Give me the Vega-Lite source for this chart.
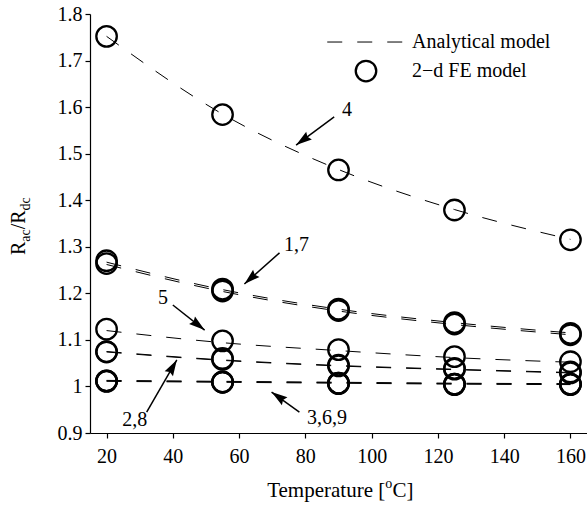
{
  "$schema": "https://vega.github.io/schema/vega-lite/v6.json",
  "width": 497,
  "height": 419,
  "autosize": "none",
  "padding": {"left": 90, "top": 14, "right": 0, "bottom": 75},
  "background": "white",
  "config": {
    "view": {"stroke": null},
    "font": "Liberation Serif, Times New Roman, Times, serif",
    "text": {"font": "Liberation Serif, Times New Roman, Times, serif", "color": "black"}
  },
  "datasets": {
    "fe": [
      {"T": 20, "r": 1.752, "curve": "4"}, {"T": 55, "r": 1.584, "curve": "4"}, {"T": 90, "r": 1.465, "curve": "4"}, {"T": 125, "r": 1.379, "curve": "4"}, {"T": 160, "r": 1.315, "curve": "4"},
      {"T": 20, "r": 1.270, "curve": "1"}, {"T": 55, "r": 1.209, "curve": "1"}, {"T": 90, "r": 1.166, "curve": "1"}, {"T": 125, "r": 1.137, "curve": "1"}, {"T": 160, "r": 1.114, "curve": "1"},
      {"T": 20, "r": 1.264, "curve": "7"}, {"T": 55, "r": 1.205, "curve": "7"}, {"T": 90, "r": 1.163, "curve": "7"}, {"T": 125, "r": 1.134, "curve": "7"}, {"T": 160, "r": 1.111, "curve": "7"},
      {"T": 20, "r": 1.123, "curve": "5"}, {"T": 55, "r": 1.098, "curve": "5"}, {"T": 90, "r": 1.079, "curve": "5"}, {"T": 125, "r": 1.064, "curve": "5"}, {"T": 160, "r": 1.053, "curve": "5"},
      {"T": 20, "r": 1.075, "curve": "2"}, {"T": 55, "r": 1.060, "curve": "2"}, {"T": 90, "r": 1.046, "curve": "2"}, {"T": 125, "r": 1.039, "curve": "2"}, {"T": 160, "r": 1.031, "curve": "2"},
      {"T": 20, "r": 1.074, "curve": "8"}, {"T": 55, "r": 1.058, "curve": "8"}, {"T": 90, "r": 1.044, "curve": "8"}, {"T": 125, "r": 1.037, "curve": "8"}, {"T": 160, "r": 1.029, "curve": "8"},
      {"T": 20, "r": 1.012, "curve": "3"}, {"T": 55, "r": 1.010, "curve": "3"}, {"T": 90, "r": 1.007, "curve": "3"}, {"T": 125, "r": 1.005, "curve": "3"}, {"T": 160, "r": 1.005, "curve": "3"},
      {"T": 20, "r": 1.011, "curve": "6"}, {"T": 55, "r": 1.009, "curve": "6"}, {"T": 90, "r": 1.006, "curve": "6"}, {"T": 125, "r": 1.004, "curve": "6"}, {"T": 160, "r": 1.004, "curve": "6"},
      {"T": 20, "r": 1.012, "curve": "9"}, {"T": 55, "r": 1.009, "curve": "9"}, {"T": 90, "r": 1.007, "curve": "9"}, {"T": 125, "r": 1.005, "curve": "9"}, {"T": 160, "r": 1.005, "curve": "9"}
    ],
    "an": [
      {"T": 20, "r": 1.752, "curve": "4"}, {"T": 55, "r": 1.585, "curve": "4"}, {"T": 90, "r": 1.466, "curve": "4"}, {"T": 125, "r": 1.380, "curve": "4"}, {"T": 160, "r": 1.316, "curve": "4"},
      {"T": 20, "r": 1.267, "curve": "1"}, {"T": 55, "r": 1.208, "curve": "1"}, {"T": 90, "r": 1.166, "curve": "1"}, {"T": 125, "r": 1.137, "curve": "1"}, {"T": 160, "r": 1.115, "curve": "1"},
      {"T": 20, "r": 1.262, "curve": "7"}, {"T": 55, "r": 1.204, "curve": "7"}, {"T": 90, "r": 1.162, "curve": "7"}, {"T": 125, "r": 1.133, "curve": "7"}, {"T": 160, "r": 1.111, "curve": "7"},
      {"T": 20, "r": 1.120, "curve": "5"}, {"T": 55, "r": 1.094, "curve": "5"}, {"T": 90, "r": 1.077, "curve": "5"}, {"T": 125, "r": 1.062, "curve": "5"}, {"T": 160, "r": 1.052, "curve": "5"},
      {"T": 20, "r": 1.075, "curve": "2"}, {"T": 55, "r": 1.057, "curve": "2"}, {"T": 90, "r": 1.045, "curve": "2"}, {"T": 125, "r": 1.037, "curve": "2"}, {"T": 160, "r": 1.030, "curve": "2"},
      {"T": 20, "r": 1.074, "curve": "8"}, {"T": 55, "r": 1.056, "curve": "8"}, {"T": 90, "r": 1.044, "curve": "8"}, {"T": 125, "r": 1.036, "curve": "8"}, {"T": 160, "r": 1.029, "curve": "8"},
      {"T": 20, "r": 1.013, "curve": "3"}, {"T": 55, "r": 1.011, "curve": "3"}, {"T": 90, "r": 1.009, "curve": "3"}, {"T": 125, "r": 1.007, "curve": "3"}, {"T": 160, "r": 1.006, "curve": "3"},
      {"T": 20, "r": 1.012, "curve": "6"}, {"T": 55, "r": 1.010, "curve": "6"}, {"T": 90, "r": 1.008, "curve": "6"}, {"T": 125, "r": 1.006, "curve": "6"}, {"T": 160, "r": 1.005, "curve": "6"},
      {"T": 20, "r": 1.011, "curve": "9"}, {"T": 55, "r": 1.009, "curve": "9"}, {"T": 90, "r": 1.007, "curve": "9"}, {"T": 125, "r": 1.005, "curve": "9"}, {"T": 160, "r": 1.004, "curve": "9"}
    ],
    "labels": [
      {"x": 92.6, "y": 1.594, "text": "4"},
      {"x": 77.3, "y": 1.304, "text": "1,7"},
      {"x": 37.0, "y": 1.19, "text": "5"},
      {"x": 28.5, "y": 0.928, "text": "2,8"},
      {"x": 86.5, "y": 0.932, "text": "3,6,9"}
    ],
    "arrows": [
      {"x": 88.7, "y": 1.579, "x2": 77.2, "y2": 1.5185, "dir": 234},
      {"x": 72.2, "y": 1.287, "x2": 61.6, "y2": 1.22, "dir": 228},
      {"x": 40.0, "y": 1.175, "x2": 49.6, "y2": 1.121, "dir": 128},
      {"x": 32.1, "y": 0.945, "x2": 41.2, "y2": 1.057, "dir": 30},
      {"x": 78.2, "y": 0.945, "x2": 69.8, "y2": 0.988, "dir": 305}
    ],
    "legendLine": [{"x": 86.6, "x2": 109.8, "y": 1.7398}],
    "legendPoint": [{"x": 98.3, "y": 1.6775}],
    "legendText": [
      {"x": 112.2, "y": 1.7398, "text": "Analytical model"},
      {"x": 112.2, "y": 1.6775, "text": "2−d FE model"}
    ],
    "titleMain": [
      {"x": 104.1, "y": 0.7625, "text": "Temperature ["}
    ],
    "titleMainAfter": [
      {"x": 106.3, "y": 0.7625, "text": "C]"}
    ],
    "titleSup": [
      {"x": 104.1, "y": 0.7819, "text": "o"}
    ],
    "yTitleMain": [
      {"x": -4.6, "y": 1.2823, "text": "R"},
      {"x": -4.6, "y": 1.3375, "text": "/R"}
    ],
    "yTitleSub": [
      {"x": -3.1, "y": 1.3109, "text": "ac"},
      {"x": -3.1, "y": 1.3781, "text": "dc"}
    ]
  },
  "layer": [
    {
      "data": {"name": "an"},
      "mark": {"type": "line", "color": "black", "strokeWidth": 1, "strokeDash": [15, 15], "interpolate": "monotone"},
      "encoding": {
        "x": {
          "field": "T", "type": "quantitative", "title": null,
          "scale": {"domain": [15, 165], "nice": false, "zero": false},
          "axis": {
            "values": [20, 40, 60, 80, 100, 120, 140, 160],
            "grid": false, "domainColor": "black", "domainWidth": 1.2,
            "tickColor": "black", "tickSize": 5, "tickWidth": 1.2,
            "labelColor": "black", "labelFont": "Liberation Serif, Times New Roman, Times, serif", "labelFontSize": 20,
            "labelPadding": 8, "labelFlush": false, "labelOverlap": false, "labelBound": false
          }
        },
        "y": {
          "field": "r", "type": "quantitative", "title": null,
          "scale": {"domain": [0.9, 1.8], "nice": false, "zero": false},
          "axis": {
            "values": [0.9, 1, 1.1, 1.2, 1.3, 1.4, 1.5, 1.6, 1.7, 1.8],
            "format": "~g",
            "grid": false, "domainColor": "black", "domainWidth": 1.2,
            "tickColor": "black", "tickSize": 5, "tickWidth": 1.2,
            "labelColor": "black", "labelFont": "Liberation Serif, Times New Roman, Times, serif", "labelFontSize": 20,
            "labelPadding": 3, "labelFlush": false, "labelOverlap": false, "labelBound": false
          }
        },
        "detail": {"field": "curve", "type": "nominal"}
      }
    },
    {
      "data": {"name": "fe"},
      "mark": {"type": "point", "shape": "circle", "filled": false, "color": "black", "size": 420, "strokeWidth": 2.3, "opacity": 1},
      "encoding": {
        "x": {"field": "T", "type": "quantitative", "title": null},
        "y": {"field": "r", "type": "quantitative", "title": null}
      }
    },
    {
      "data": {"name": "arrows"},
      "mark": {"type": "rule", "color": "black", "strokeWidth": 1.5},
      "encoding": {
        "x": {"field": "x", "type": "quantitative", "title": null},
        "y": {"field": "y", "type": "quantitative", "title": null},
        "x2": {"field": "x2"},
        "y2": {"field": "y2"}
      }
    },
    {
      "data": {"name": "arrows"},
      "mark": {"type": "point", "shape": "M0,0L0.6,2L0,1.75L-0.6,2Z", "filled": true, "color": "black", "size": 256, "opacity": 1, "strokeWidth": 0},
      "encoding": {
        "x": {"field": "x2", "type": "quantitative", "title": null},
        "y": {"field": "y2", "type": "quantitative", "title": null},
        "angle": {"field": "dir", "type": "quantitative", "scale": null}
      }
    },
    {
      "data": {"name": "labels"},
      "mark": {"type": "text", "fontSize": 20, "align": "center", "baseline": "middle", "color": "black"},
      "encoding": {
        "x": {"field": "x", "type": "quantitative", "title": null},
        "y": {"field": "y", "type": "quantitative", "title": null},
        "text": {"field": "text"}
      }
    },
    {
      "data": {"name": "legendLine"},
      "mark": {"type": "rule", "color": "black", "strokeWidth": 1, "strokeDash": [15, 15]},
      "encoding": {
        "x": {"field": "x", "type": "quantitative", "title": null},
        "x2": {"field": "x2"},
        "y": {"field": "y", "type": "quantitative", "title": null}
      }
    },
    {
      "data": {"name": "legendPoint"},
      "mark": {"type": "point", "shape": "circle", "filled": false, "color": "black", "size": 420, "strokeWidth": 2.3, "opacity": 1},
      "encoding": {
        "x": {"field": "x", "type": "quantitative", "title": null},
        "y": {"field": "y", "type": "quantitative", "title": null}
      }
    },
    {
      "data": {"name": "legendText"},
      "mark": {"type": "text", "fontSize": 20, "align": "left", "baseline": "middle", "color": "black"},
      "encoding": {
        "x": {"field": "x", "type": "quantitative", "title": null},
        "y": {"field": "y", "type": "quantitative", "title": null},
        "text": {"field": "text"}
      }
    },
    {
      "data": {"name": "titleMain"},
      "mark": {"type": "text", "fontSize": 21, "align": "right", "baseline": "alphabetic", "color": "black"},
      "encoding": {
        "x": {"field": "x", "type": "quantitative", "title": null},
        "y": {"field": "y", "type": "quantitative", "title": null},
        "text": {"field": "text"}
      }
    },
    {
      "data": {"name": "titleMainAfter"},
      "mark": {"type": "text", "fontSize": 21, "align": "left", "baseline": "alphabetic", "color": "black"},
      "encoding": {
        "x": {"field": "x", "type": "quantitative", "title": null},
        "y": {"field": "y", "type": "quantitative", "title": null},
        "text": {"field": "text"}
      }
    },
    {
      "data": {"name": "titleSup"},
      "mark": {"type": "text", "fontSize": 14, "align": "left", "baseline": "alphabetic", "color": "black"},
      "encoding": {
        "x": {"field": "x", "type": "quantitative", "title": null},
        "y": {"field": "y", "type": "quantitative", "title": null},
        "text": {"field": "text"}
      }
    },
    {
      "data": {"name": "yTitleMain"},
      "mark": {"type": "text", "fontSize": 20, "align": "left", "baseline": "alphabetic", "angle": 270, "color": "black"},
      "encoding": {
        "x": {"field": "x", "type": "quantitative", "title": null},
        "y": {"field": "y", "type": "quantitative", "title": null},
        "text": {"field": "text"}
      }
    },
    {
      "data": {"name": "yTitleSub"},
      "mark": {"type": "text", "fontSize": 14, "align": "left", "baseline": "alphabetic", "angle": 270, "color": "black"},
      "encoding": {
        "x": {"field": "x", "type": "quantitative", "title": null},
        "y": {"field": "y", "type": "quantitative", "title": null},
        "text": {"field": "text"}
      }
    }
  ]
}
